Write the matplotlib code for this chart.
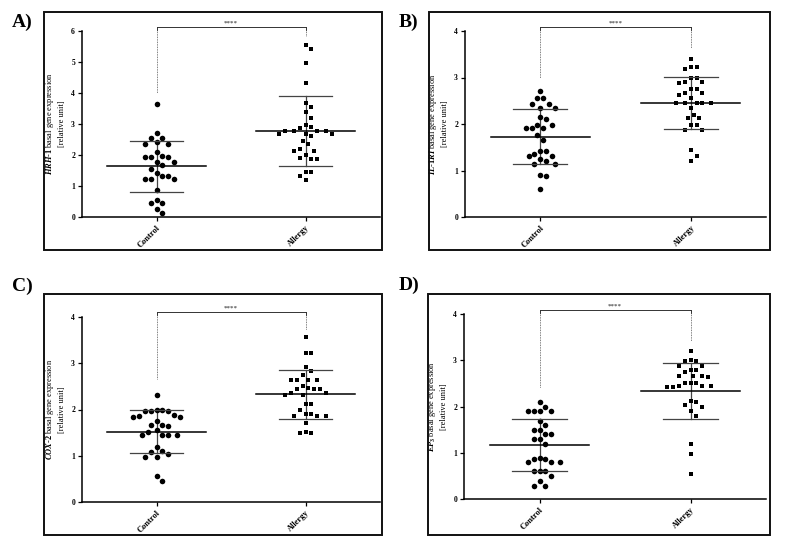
import matplotlib
matplotlib.use("Agg")
import matplotlib.pyplot as plt
import numpy as np
from matplotlib.patches import Rectangle

plt.rcParams['font.family'] = ['Liberation Serif', 'DejaVu Serif']
plt.rcParams['font.weight'] = 'bold'
plt.rcParams['mathtext.fontset'] = 'custom'
plt.rcParams['mathtext.it'] = 'Liberation Serif:italic:bold'
plt.rcParams['mathtext.rm'] = 'Liberation Serif:bold'

# ---- data ----
groups = ['Control', 'Allergy']

hrh1_control = [3.65, 2.70, 2.55, 2.55, 2.43, 2.34, 2.34, 2.10, 1.97, 1.92, 1.92, 1.92, 1.76, 1.76,
                1.67, 1.54, 1.43, 1.33, 1.33, 1.22, 1.22, 1.22, 0.86, 0.56, 0.46, 0.46, 0.26, 0.14]
hrh1_allergy = [5.54, 5.43, 4.96, 4.33, 3.67, 3.54, 3.40, 3.19, 2.97, 2.90, 2.88, 2.77, 2.77, 2.77,
                2.77, 2.67, 2.67, 2.67, 2.60, 2.44, 2.34, 2.19, 2.13, 2.13, 1.99, 1.91, 1.88, 1.88,
                1.46, 1.46, 1.33, 1.20]

il1ri_control = [2.70, 2.55, 2.55, 2.43, 2.43, 2.35, 2.35, 2.14, 2.11, 1.98, 1.98, 1.91, 1.91, 1.91,
                 1.77, 1.65, 1.43, 1.43, 1.35, 1.31, 1.31, 1.24, 1.20, 1.15, 1.15, 0.91, 0.88, 0.60]
il1ri_allergy = [3.40, 3.22, 3.22, 3.19, 2.98, 2.98, 2.91, 2.91, 2.88, 2.75, 2.75, 2.66, 2.66, 2.63,
                 2.56, 2.46, 2.46, 2.46, 2.46, 2.46, 2.35, 2.19, 2.12, 2.12, 1.97, 1.97, 1.87, 1.87,
                 1.45, 1.32, 1.20]

cox2_control = [2.32, 1.99, 1.96, 1.96, 1.96, 1.98, 1.88, 1.84, 1.84, 1.87, 1.76, 1.66, 1.65, 1.66,
                1.55, 1.51, 1.45, 1.45, 1.45, 1.45, 1.20, 1.09, 1.11, 0.97, 0.97, 1.03, 0.56, 0.45]
cox2_allergy = [3.56, 3.22, 3.22, 2.91, 2.84, 2.74, 2.64, 2.64, 2.64, 2.64, 2.51, 2.45, 2.45, 2.46,
                2.45, 2.35, 2.32, 2.32, 2.35, 2.12, 2.12, 1.99, 1.91, 1.87, 1.87, 1.87, 1.91, 1.70,
                1.51, 1.49, 1.49]

ep3_control = [2.10, 2.00, 1.90, 1.90, 1.90, 1.90, 1.69, 1.59, 1.49, 1.49, 1.40, 1.40, 1.29, 1.29,
               1.20, 0.86, 0.86, 0.89, 0.79, 0.79, 0.79, 0.60, 0.60, 0.60, 0.49, 0.40, 0.29, 0.29]
ep3_allergy = [3.21, 2.98, 2.98, 3.00, 2.88, 2.88, 2.80, 2.80, 2.75, 2.65, 2.65, 2.63, 2.67, 2.50,
               2.44, 2.44, 2.43, 2.43, 2.44, 2.50, 2.50, 2.11, 2.09, 2.03, 1.90, 1.98, 1.80, 1.20,
               0.97, 0.55]

# mean and SD per group (control, allergy)
hrh1_mean, hrh1_sd = [1.63, 2.78], [0.83, 1.12]
il1ri_mean, il1ri_sd = [1.73, 2.46], [0.585, 0.56]
cox2_mean, cox2_sd = [1.52, 2.33], [0.46, 0.525]
ep3_mean, ep3_sd = [1.17, 2.345], [0.57, 0.605]

# significance bracket: height, lower end of dotted lines (control, allergy)
hrh1_sig = [6.12, 3.99, 5.83]
il1ri_sig = [4.08, 2.99, 3.63]
cox2_sig = [4.10, 2.66, 3.71]
ep3_sig = [4.08, 2.40, 3.41]

ylabels = [r'$HRH$-$1$ basal gene expression', r'$IL$-$1RI$ basal gene expression',
           r'$COX$-$2$ basal gene expression', r'$EP_3$ basal gene expression']
letters = ['A)', 'B)', 'C)', 'D)']
ymaxes = [6, 4, 4, 4]

W, H = 785, 547
fig = plt.figure(figsize=(W / 100, H / 100), dpi=100)

# pixel boxes (left, top, right, bottom)
frames = [(44, 12, 382, 250), (429, 12, 770, 250), (44, 294, 382, 535), (428, 294, 770, 535)]
axboxes = [(82, 31, 380, 217), (465, 31, 766, 217), (82, 317, 380, 502), (464, 314, 766, 499)]
letter_pos = [(12, 27), (399, 27), (12, 291), (399, 290)]


def swarm_offsets(values, px_y, px_x, rx=5.8, ry=8.0, step=2.9):
    # greedy swarm with an elliptical exclusion zone (wider vertically), like Prism
    values = np.asarray(values)
    order = np.argsort(-values, kind='stable')
    cands = [0.0]
    for k in range(1, 30):
        cands += [k * step, -k * step]
    placed = []
    offs = np.zeros(len(values))
    for i in order:
        y = values[i] * px_y
        for c in cands:
            if all(((c - px) / rx) ** 2 + ((y - py) / ry) ** 2 >= 1 for px, py in placed):
                break
        placed.append((c, y))
        offs[i] = c / px_x
    return offs


datasets = [
    (hrh1_control, hrh1_allergy, hrh1_mean, hrh1_sd, hrh1_sig),
    (il1ri_control, il1ri_allergy, il1ri_mean, il1ri_sd, il1ri_sig),
    (cox2_control, cox2_allergy, cox2_mean, cox2_sd, cox2_sig),
    (ep3_control, ep3_allergy, ep3_mean, ep3_sd, ep3_sig),
]

for k, (ctrl, allg, means, sds, sig) in enumerate(datasets):
    fl, ft, fr, fb = frames[k]
    fig.patches.append(Rectangle((fl / W, 1 - fb / H), (fr - fl) / W, (fb - ft) / H,
                                 transform=fig.transFigure, fill=False, lw=1.4,
                                 edgecolor='#111111'))
    lx, ly = letter_pos[k]
    fig.text(lx / W, 1 - ly / H, letters[k], fontsize=14, fontweight='bold',
             ha='left', va='baseline')

    al, at, ar, ab = axboxes[k]
    ax = fig.add_axes([al / W, 1 - ab / H, (ar - al) / W, (ab - at) / H])
    ymax = ymaxes[k]
    ax.set_xlim(-0.5, 1.5)
    ax.set_ylim(0, ymax)
    px_y = (ab - at) / ymax
    px_x = (ar - al) / 2.0

    for j, (vals, mk) in enumerate([(ctrl, 'o'), (allg, 's')]):
        offs = swarm_offsets(vals, px_y, px_x)
        ax.scatter(j + offs, vals, s=16 if mk == 'o' else 12, marker=mk, color='black',
                   linewidths=0, zorder=3)
        m, s = means[j], sds[j]
        ax.plot([j - 0.33, j + 0.33], [m, m], color='black', lw=1.1, zorder=4)
        ax.plot([j - 0.18, j + 0.18], [m + s, m + s], color='#444444', lw=0.9, zorder=4)
        ax.plot([j - 0.18, j + 0.18], [m - s, m - s], color='#444444', lw=0.9, zorder=4)
        ax.plot([j, j], [m - s, m + s], color='#444444', lw=0.9, zorder=2)

    # significance bracket
    ybr, yc, ya = sig
    tick = 0.012 * ymax
    ax.plot([0, 1], [ybr, ybr], color='#333333', lw=0.7, clip_on=False)
    ax.plot([0, 0], [ybr, ybr - tick], color='#333333', lw=0.7, clip_on=False)
    ax.plot([1, 1], [ybr, ybr - tick], color='#333333', lw=0.7, clip_on=False)
    ax.plot([0, 0], [ybr - tick, yc], color='#555555', lw=0.6, ls=(0, (1, 1)), clip_on=False)
    ax.plot([1, 1], [ybr - tick, ya], color='#555555', lw=0.6, ls=(0, (1, 1)), clip_on=False)
    ax.annotate('****', (0.5, ybr), xytext=(0, 1.5), textcoords='offset points',
                ha='center', va='bottom', fontsize=5, color='#555555', annotation_clip=False)

    for side in ['top', 'right']:
        ax.spines[side].set_visible(False)
    for side in ['left', 'bottom']:
        ax.spines[side].set_linewidth(1.1)
    ax.set_yticks(range(0, ymax + 1))
    ax.set_xticks([0, 1])
    ax.set_xticklabels(groups, rotation=45, ha='right', va='top', rotation_mode='anchor')
    ax.tick_params(axis='y', labelsize=5.5, length=3, width=0.9, pad=2)
    ax.tick_params(axis='x', labelsize=6, length=3, width=0.9, pad=2)
    ax.set_ylabel(ylabels[k] + '\n[relative unit]', fontsize=6, linespacing=1.3, labelpad=4)

fig.savefig('out.png', dpi=100, facecolor='white')
